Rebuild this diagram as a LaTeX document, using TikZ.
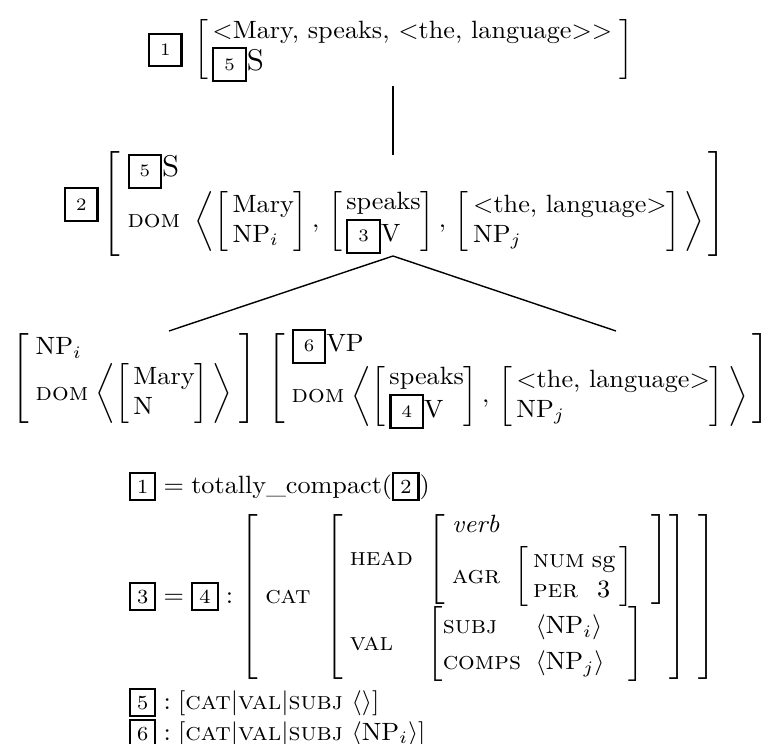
\documentclass[tikz,border=0pt]{standalone}
\usepackage{amsmath}
\usepackage{graphicx}

% horizontal and vertical magnification of the typeset matrices
\newcommand\avmsx{2.62}
\newcommand\avmsy{2.5}
\newcommand\avmmag[1]{\scalebox{\avmsx}[\avmsy]{$#1$}}
% boxed structure-sharing tags (large in the tree, smaller in the constraints)
\newcommand\tagbox[1]{{\setlength\fboxsep{3.8pt}\setlength\fboxrule{0.8pt}\fbox{\scriptsize #1}}}
\newcommand\tagboxs[1]{{\setlength\fboxsep{2.3pt}\setlength\fboxrule{0.8pt}\fbox{\footnotesize #1}}}
% feature names in small caps
\newcommand\avmft[1]{\text{\textsc{#1}}}
% a two-line bracketed domain element
\newcommand\avmcell[2]{\left[\begin{array}{@{\,}l@{}}#1\\ #2\end{array}\right]}
\newcommand\sep{,\,}

\begin{document}
\begin{tikzpicture}[x=1pt,y=1pt]
\useasboundingbox (0,0) rectangle (769,-744);
\tikzset{
  avm/.style={inner sep=0pt, outer sep=0pt, anchor=base west},
  trunk/.style={line width=2pt},
  branch/.style={line width=1.4pt}
}

% mother sign
\node[avm] (top) at (148,-56) {\avmmag{\tagbox{1}\;\left[\begin{array}{@{\,}l@{\;}}
  {<}\text{Mary, speaks, }{<}\text{the, language}{>}{>}\\
  \tagbox{5}\text{\large S}\end{array}\right]}};

% daughter with its domain
\node[avm] (mid) at (64,-210) {\avmmag{\tagbox{2}\left[\begin{array}{@{\;}l@{\;\;}l@{}}
  \multicolumn{2}{@{\;}l}{\tagbox{5}\text{\large S}}\\
  \avmft{dom} & \left\langle \avmcell{\text{Mary}}{\text{NP}_i}\sep
     \avmcell{\text{speaks}}{\tagbox{3}\text{V}}\sep
     \avmcell{{<}\text{the, language}{>}}{\text{NP}_j}\,\right\rangle
  \end{array}\,\right]}};

% the two constituents
\node[avm] (np) at (11,-385) {\avmmag{\left[\begin{array}{@{\;}l@{\;}l@{}}
  \multicolumn{2}{@{\;}l}{\text{NP}_i}\\
  \avmft{dom} & \left\langle \avmcell{\text{Mary}}{\text{N}}\,\right\rangle
  \end{array}\;\right]}};
\node[avm] (vp) at (267,-385) {\avmmag{\left[\begin{array}{@{\;}l@{\;}l@{}}
  \multicolumn{2}{@{\;}l}{\tagbox{6}\text{VP}}\\
  \avmft{dom} & \left\langle \avmcell{\text{speaks}}{\tagbox{4}\text{V}}\sep
     \avmcell{{<}\text{the, language}{>}}{\text{NP}_j}\,\right\rangle
  \end{array}\,\right]}};

% tree lines
\coordinate (trunkA) at (393,-86);
\coordinate (trunkB) at (393,-155);
\coordinate (apex) at (393,-256);
\coordinate (legL) at (169,-331);
\coordinate (legR) at (616,-331);
\draw[trunk] (trunkA) -- (trunkB);
\draw[branch] (legL) -- (apex) -- (legR);

% constraints on the tags
\node[avm] (eqA) at (129,-493) {\avmmag{\tagboxs{1} = \text{totally\_compact}(\tagboxs{2})}};
\node[avm] (eqB) at (129,-603) {\avmmag{\tagboxs{3} = \tagboxs{4} : \left[\begin{array}{@{\;}l@{\;\;}l@{\;\,}}
  \avmft{cat} & \left[\begin{array}{@{\;}l@{\;\;}l@{}}
    \avmft{head} & \left[\begin{array}{@{\;}l@{\;\;}l@{\hspace{7pt}}}
       \multicolumn{2}{@{\;}l}{\textit{verb}}\\[2pt]
       \avmft{agr} & \left[\begin{array}{@{\,}l@{\;}c@{\,}}
          \avmft{num} & \text{sg}\\ \avmft{per} & 3\end{array}\right]
       \end{array}\right]\\[9pt]
    \avmft{val} & {\def\arraystretch{1.2}\left[\begin{array}{@{}l@{\;\;}l@{\hspace{9pt}}}
       \avmft{subj} & \langle\text{NP}_i\rangle\\
       \avmft{comps} & \langle\text{NP}_j\rangle\end{array}\right]}
    \end{array}\right]
  \end{array}\right]}};
\node[avm] (eqC) at (129,-709) {\avmmag{\tagboxs{5} : [\avmft{cat}|\avmft{val}|\avmft{subj}\ \langle\rangle]}};
\node[avm] (eqD) at (129,-740) {\avmmag{\tagboxs{6} : [\avmft{cat}|\avmft{val}|\avmft{subj}\ \langle\text{NP}_i\rangle]}};
\end{tikzpicture}
\end{document}
